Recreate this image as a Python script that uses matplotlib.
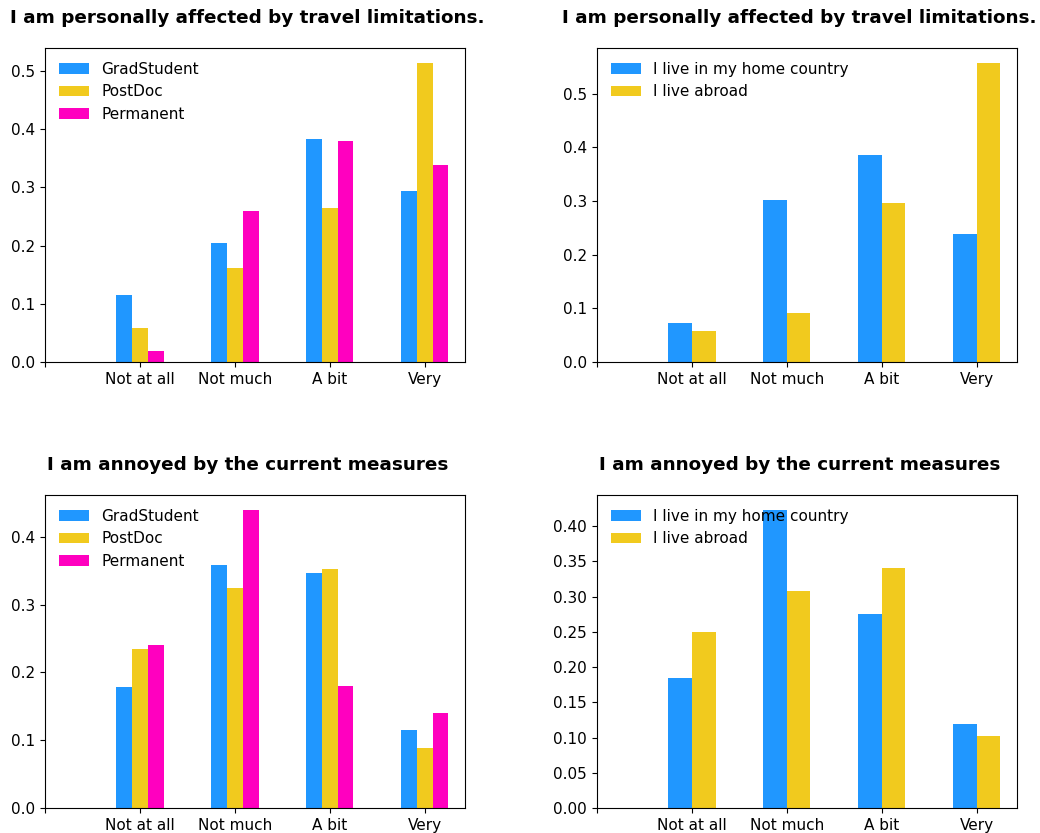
import numpy as np
import matplotlib
matplotlib.use("Agg")
import matplotlib.pyplot as plt

categories = ["Not at all", "Not much", "A bit", "Very"]

title_travel = "I am personally affected by travel limitations."
title_annoyed = "I am annoyed by the current measures"

# position groups
position_labels = ["GradStudent", "PostDoc", "Permanent"]
travel_grad = [0.115, 0.204, 0.384, 0.294]
travel_postdoc = [0.058, 0.161, 0.265, 0.514]
travel_permanent = [0.019, 0.260, 0.380, 0.339]

annoyed_grad = [0.179, 0.359, 0.347, 0.115]
annoyed_postdoc = [0.235, 0.324, 0.353, 0.088]
annoyed_permanent = [0.240, 0.440, 0.180, 0.140]

# residence groups
residence_labels = ["I live in my home country", "I live abroad"]
travel_home = [0.073, 0.302, 0.385, 0.239]
travel_abroad = [0.057, 0.091, 0.296, 0.557]

annoyed_home = [0.184, 0.423, 0.275, 0.119]
annoyed_abroad = [0.250, 0.308, 0.341, 0.102]

colors = ["#2097FF", "#F1CA1E", "#FF00BF"]


def grouped_bars(ax, series, labels, title):
    n = len(series)
    width = 0.5 / n
    x = np.arange(1, len(categories) + 1)
    for i, (vals, lab) in enumerate(zip(series, labels)):
        offset = (i - (n - 1) / 2) * width
        ax.bar(x + offset, vals, width, color=colors[i], label=lab)
    ax.set_xticks(np.arange(0, len(categories) + 1))
    ax.set_xticklabels([""] + categories)
    ax.tick_params(labelsize=11)
    ax.legend(loc="upper left", frameon=False, fontsize=11)
    ax.set_title(title, fontsize=13.2, fontweight="bold", x=0.482, pad=18)


fig = plt.figure(figsize=(10.4, 8.33), dpi=100)
ax1 = fig.add_axes([0.0433, 0.5654, 0.4038, 0.3770])
ax2 = fig.add_axes([0.5740, 0.5654, 0.4038, 0.3770])
ax3 = fig.add_axes([0.0433, 0.0300, 0.4038, 0.3758])
ax4 = fig.add_axes([0.5740, 0.0300, 0.4038, 0.3758])

grouped_bars(ax1, [travel_grad, travel_postdoc, travel_permanent], position_labels, title_travel)
grouped_bars(ax2, [travel_home, travel_abroad], residence_labels, title_travel)
grouped_bars(ax3, [annoyed_grad, annoyed_postdoc, annoyed_permanent], position_labels, title_annoyed)
grouped_bars(ax4, [annoyed_home, annoyed_abroad], residence_labels, title_annoyed)

fig.savefig("out.png", dpi=100)
